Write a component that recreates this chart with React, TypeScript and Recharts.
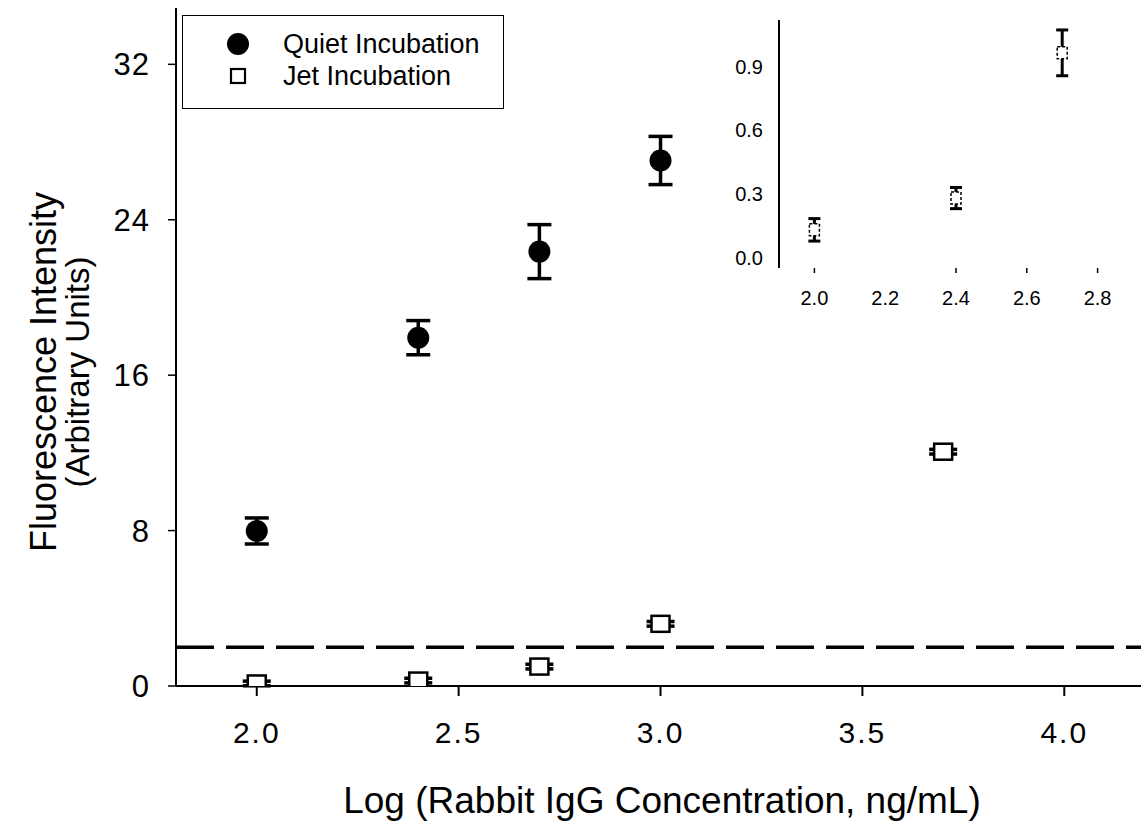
import React from 'react'
import {
  ScatterChart, Scatter, XAxis, YAxis, ErrorBar, ReferenceLine,
} from 'recharts'

// main chart
const quietX = [2.0, 2.4, 2.7, 3.0]
const quietMean = [7.98, 17.93, 22.36, 27.05]
const quietErr = [0.67, 0.88, 1.39, 1.24]

const jetX = [2.0, 2.4, 2.7, 3.0, 3.7]
const jetMean = [0.13, 0.28, 1.0, 3.2, 12.06]
const jetErr = [0.12, 0.12, 0.12, 0.12, 0.12]

// inset (first three jet points)
const insetX = [2.0, 2.4, 2.7]
const insetMean = [0.13, 0.28, 0.965]
const insetErr = [0.053, 0.05, 0.108]

const detectionLimit = 2.0

const xTicks = [2.0, 2.5, 3.0, 3.5, 4.0]
const yTicks = [0, 8, 16, 24, 32]
const insetXTicks = [2.0, 2.2, 2.4, 2.6, 2.8]
const insetYTicks = [0, 0.3, 0.6, 0.9]

const quietData = quietX.map((x, i) => ({ x, y: quietMean[i], err: quietErr[i] }))
const jetData = jetX.map((x, i) => ({ x, y: jetMean[i], err: jetErr[i] }))
const insetData = insetX.map((x, i) => ({ x, y: insetMean[i], err: insetErr[i] }))

const FONT = '"Liberation Sans", Arial, Helvetica, sans-serif'

const Dot = (p: any) => <circle cx={p.cx} cy={p.cy} r={11} fill="#000" />
const Square = (p: any) => (
  <rect x={p.cx - 9} y={p.cy - 8} width={18} height={16} fill="#fff" stroke="#000" strokeWidth={2.5} />
)
const SmallSquare = (p: any) => (
  <rect x={p.cx - 5} y={p.cy - 6} width={10} height={12} fill="#fff" stroke="#000" strokeWidth={1.5} strokeDasharray="3 2" />
)

// legend box drawn over the plot, top-left corner
const LegendBox = () => (
  <div style={{
    position: 'absolute', left: 182, top: 15,
    border: '1.5px solid #000', width: 322, height: 94, boxSizing: 'border-box',
    fontFamily: FONT, fontSize: 27, color: '#000', paddingTop: 12, whiteSpace: 'nowrap',
  }}>
    <div style={{ display: 'flex', alignItems: 'center', height: 32 }}>
      <svg width={100} height={32} style={{ flexShrink: 0 }}><circle cx={55} cy={16} r={11} fill="#000" /></svg>
      <span>Quiet Incubation</span>
    </div>
    <div style={{ display: 'flex', alignItems: 'center', height: 32 }}>
      <svg width={100} height={32} style={{ flexShrink: 0 }}><rect x={48} y={9} width={14} height={14} fill="#fff" stroke="#000" strokeWidth={2.2} /></svg>
      <span>Jet Incubation</span>
    </div>
  </div>
)

const InsetTick = (p: any) => {
  const v = p.payload.value
  return (
    <g>
      {v !== 2.2 && <line x1={p.x} x2={p.x} y1={p.y - 8} y2={p.y - 3} stroke="#000" strokeWidth={1.5} />}
      <text x={p.x} y={p.y + 29} textAnchor="middle" fontSize={20} fontFamily={FONT} fill="#000">
        {v.toFixed(1)}
      </text>
    </g>
  )
}

export default function App() {
  return (
    <div style={{ position: 'absolute', left: 0, top: 0, width: 1141, height: 823, background: '#fff' }}>
      <ScatterChart width={1141} height={823} margin={{ top: 8, right: 0, bottom: 57, left: 76 }}>
        <XAxis
          type="number" dataKey="x" domain={[1.8, 4.19]} ticks={xTicks} allowDataOverflow
          tickFormatter={(v: number) => v.toFixed(1)} height={80}
          tick={{ fontSize: 30, fontFamily: FONT, fill: '#000', letterSpacing: 2 }}
          tickSize={10} tickMargin={26}
          axisLine={{ stroke: '#000', strokeWidth: 2 }} tickLine={{ stroke: '#000', strokeWidth: 2 }}
        />
        <XAxis xAxisId="top" orientation="top" type="number" domain={[1.8, 4.19]} height={0}
          tick={false} tickLine={false} axisLine={{ stroke: '#000', strokeWidth: 2.5 }} />
        <YAxis
          type="number" dataKey="y" domain={[0, 34.9]} ticks={yTicks} allowDataOverflow width={100}
          tick={{ fontSize: 31, fontFamily: FONT, fill: '#000', letterSpacing: 1 }}
          tickSize={8} tickMargin={18}
          axisLine={{ stroke: '#000', strokeWidth: 2 }} tickLine={{ stroke: '#000', strokeWidth: 1.5 }}
        />
        <ReferenceLine y={detectionLimit} stroke="#000" strokeWidth={3.5} strokeDasharray="38 12" />
        <Scatter name="Quiet Incubation" data={quietData} shape={Dot} isAnimationActive={false}>
          <ErrorBar dataKey="err" direction="y" width={12} stroke="#000" strokeWidth={3.5} />
        </Scatter>
        <Scatter name="Jet Incubation" data={jetData} shape={Square} isAnimationActive={false}>
          <ErrorBar dataKey="err" direction="y" width={14} stroke="#000" strokeWidth={3.5} />
        </Scatter>
        <text x={43} y={372} transform="rotate(-90 43 372)" textAnchor="middle" dominantBaseline="central"
          fontSize={36} fontFamily={FONT} fill="#000">Fluorescence Intensity</text>
        <text x={77} y={372} transform="rotate(-90 77 372)" textAnchor="middle" dominantBaseline="central"
          fontSize={33} fontFamily={FONT} fill="#000">(Arbitrary Units)</text>
        <text x={662} y={800} textAnchor="middle" dominantBaseline="central"
          fontSize={37} fontFamily={FONT} fill="#000">Log (Rabbit IgG Concentration, ng/mL)</text>
      </ScatterChart>

      <LegendBox />

      <div style={{ position: 'absolute', left: 700, top: 0 }}>
        <ScatterChart width={441} height={320} margin={{ top: 20, right: 8, bottom: 12, left: 19 }}>
          <XAxis type="number" dataKey="x" domain={[1.9, 2.9]} ticks={insetXTicks} allowDataOverflow
            height={40} axisLine={false} tickLine={false} tick={<InsetTick />} />
          <YAxis type="number" dataKey="y" domain={[-0.05, 1.12]} ticks={insetYTicks} allowDataOverflow width={60}
            tickFormatter={(v: number) => v.toFixed(1)}
            tick={{ fontSize: 20, fontFamily: FONT, fill: '#000' }} tickLine={false} tickMargin={10}
            axisLine={{ stroke: '#000', strokeWidth: 2 }} />
          <YAxis yAxisId="right" orientation="right" type="number" domain={[-0.05, 1.12]} width={0}
            tick={false} tickLine={false} axisLine={{ stroke: '#000', strokeWidth: 2 }} />
          <Scatter data={insetData} shape={SmallSquare} isAnimationActive={false}>
            <ErrorBar dataKey="err" direction="y" width={6} stroke="#000" strokeWidth={3} />
          </Scatter>
        </ScatterChart>
      </div>
    </div>
  )
}
